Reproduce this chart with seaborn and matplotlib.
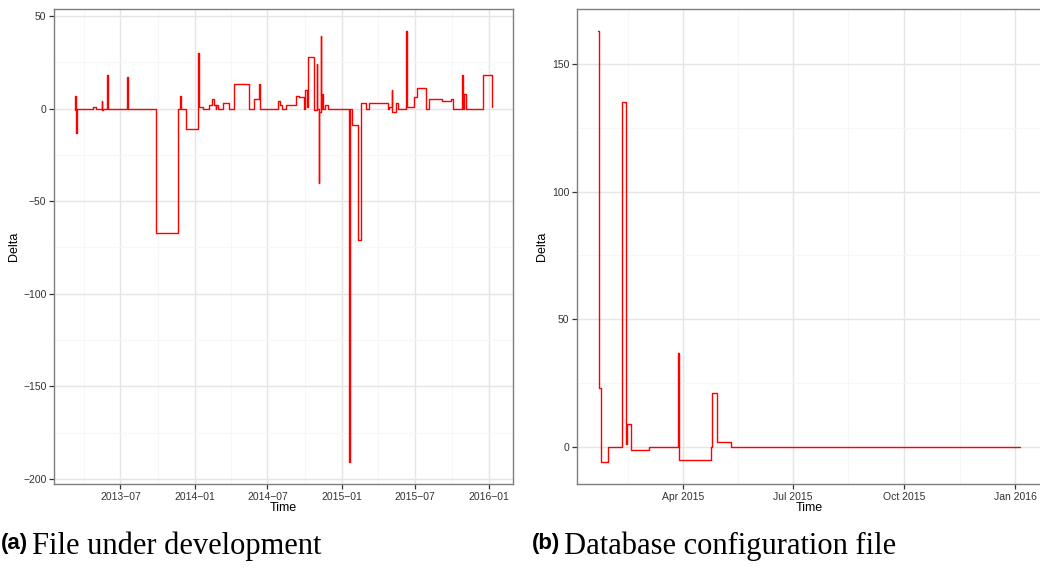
import pandas as pd
import numpy as np
import matplotlib
matplotlib.use("Agg")
import matplotlib.pyplot as plt
import matplotlib.dates as mdates
from matplotlib.ticker import FuncFormatter, MultipleLocator, FixedLocator
import seaborn as sns

# ---- data (step series, value holds until next date) ----
dev_dates = [
    "2013-03-10", "2013-03-11", "2013-03-13", "2013-03-15", "2013-04-25", "2013-05-02",
    "2013-05-16", "2013-05-17", "2013-05-19", "2013-05-28", "2013-05-31", "2013-07-17",
    "2013-07-20", "2013-09-27", "2013-11-21", "2013-11-27", "2013-11-29", "2013-12-11",
    "2014-01-10", "2014-01-12", "2014-01-23", "2014-02-05", "2014-02-13", "2014-02-18",
    "2014-02-22", "2014-02-24", "2014-02-28", "2014-03-12", "2014-03-28", "2014-04-08",
    "2014-05-15", "2014-05-28", "2014-06-09", "2014-06-12", "2014-07-27", "2014-08-01",
    "2014-08-06", "2014-08-17", "2014-09-10", "2014-09-18", "2014-09-29", "2014-10-02",
    "2014-10-08", "2014-10-10", "2014-10-24", "2014-10-31", "2014-11-02", "2014-11-06",
    "2014-11-07", "2014-11-10", "2014-11-11", "2014-11-13", "2014-11-15", "2014-11-20",
    "2014-11-27", "2015-01-20", "2015-01-23", "2015-01-28", "2015-02-10", "2015-02-18",
    "2015-03-03", "2015-03-10", "2015-04-25", "2015-04-29", "2015-05-05", "2015-05-07",
    "2015-05-15", "2015-05-22", "2015-06-11", "2015-06-13", "2015-06-30", "2015-07-08",
    "2015-07-29", "2015-08-06", "2015-09-08", "2015-09-29", "2015-10-04", "2015-10-26",
    "2015-10-30", "2015-11-01", "2015-11-05", "2015-12-17", "2016-01-09",
]
dev_delta = [
    -1, 7, -13, 0, 1, 0,
    4, -1, 0, 18, 0, 17,
    0, -67, 0, 7, 0, -11,
    30, 1, 0, 2, 5, 2,
    0, 2, 0, 3, 0, 13,
    0, 5, 13, 0, 4, 2,
    0, 2, 7, 6, 0, 10,
    1, 28, -1, 24, 0, -40,
    -2, 39, 0, 8, 0, 2,
    0, -191, 0, -9, -71, 3,
    0, 3, 0, 1, 10, -2,
    3, 0, 42, 1, 6, 11,
    0, 5, 4, 5, 0, 18,
    0, 8, 0, 18, 1,
]

db_dates = [
    "2015-01-21", "2015-01-22", "2015-01-23", "2015-01-29", "2015-02-10", "2015-02-13",
    "2015-02-14", "2015-02-17", "2015-03-04", "2015-03-28", "2015-03-29", "2015-04-24",
    "2015-04-25", "2015-04-29", "2015-05-11", "2016-01-05",
]
db_delta = [163, 23, -6, 0, 135, 1, 9, -1, 0, 37, -5, 0, 21, 2, 0, 0]

dev = pd.DataFrame({"Time": pd.to_datetime(dev_dates), "Delta": dev_delta})
db = pd.DataFrame({"Time": pd.to_datetime(db_dates), "Delta": db_delta})

# ---- style (ggplot theme_bw look) ----
sns.set_style("white")
plt.rcParams["font.family"] = ["Liberation Sans", "DejaVu Sans"]
plt.rcParams["text.color"] = "black"
plt.rcParams["axes.labelcolor"] = "black"

fig = plt.figure(figsize=(10.4, 5.7), dpi=100)
ax1 = fig.add_axes([0.052, 0.151, 0.441, 0.833])
ax2 = fig.add_axes([0.555, 0.151, 0.446, 0.833])


def expand(lo, hi, frac=0.05):
    span = hi - lo
    return lo - span * frac, hi + span * frac


def style_axes(ax, df, major, minor, fmt, ystep, ylabelpad):
    sns.lineplot(data=df, x="Time", y="Delta", ax=ax, color="red", lw=1.0,
                 drawstyle="steps-post", estimator=None, sort=False)
    x0, x1 = expand(mdates.date2num(df["Time"].min()), mdates.date2num(df["Time"].max()))
    ax.set_xlim(x0, x1)
    ax.set_ylim(*expand(df["Delta"].min(), df["Delta"].max()))
    ax.xaxis.set_major_locator(major)
    ax.xaxis.set_minor_locator(minor)
    ax.xaxis.set_major_formatter(FuncFormatter(fmt))
    ax.yaxis.set_major_locator(MultipleLocator(ystep))
    ax.yaxis.set_minor_locator(MultipleLocator(ystep / 2))
    ax.yaxis.set_major_formatter(FuncFormatter(lambda v, p: f"{v:.0f}".replace("-", "\u2212")))
    ax.grid(which="major", color="#e5e5e5", lw=1.0)
    ax.grid(which="minor", color="#f7f7f7", lw=0.8)
    ax.set_axisbelow(True)
    for s in ax.spines.values():
        s.set_color("#7f7f7f")
        s.set_linewidth(1.0)
    ax.tick_params(which="major", bottom=True, left=True, direction="out",
                   length=3.5, width=0.9, color="#333333",
                   labelsize=7.5, labelcolor="#333333", pad=2)
    ax.tick_params(which="minor", bottom=False, left=False, length=0)
    ax.set_xlabel("Time", fontsize=9, labelpad=0)
    ax.set_ylabel("Delta", fontsize=9, labelpad=ylabelpad)


style_axes(ax1, dev, mdates.MonthLocator(bymonth=[1, 7]), mdates.MonthLocator(bymonth=[4, 10]),
           lambda v, p: mdates.num2date(v).strftime("%Y-%m").replace("-", "\u2212"), 50, 2)

# right panel: quarterly majors, minor gridlines halfway between them
q_major = mdates.MonthLocator(bymonth=[1, 4, 7, 10])
q_ticks = pd.date_range("2015-01-01", "2016-04-01", freq="QS")
q_mid = mdates.date2num(q_ticks[:-1]) + np.diff(mdates.date2num(q_ticks)) / 2
style_axes(ax2, db, q_major, FixedLocator(q_mid),
           lambda v, p: mdates.num2date(v).strftime("%b %Y"), 50, 3)

# ---- sub-captions ----
for x, tag, cap in [(0.001, "(a)", "File under development"),
                    (0.511, "(b)", "Database configuration file")]:
    t = fig.text(x, 0.036, tag, fontsize=16, fontweight="bold", color="black",
                 family=["Liberation Sans", "DejaVu Sans"], va="baseline")
    fig.canvas.draw()
    ax1.annotate(cap, xy=(1, 0), xycoords=t, xytext=(3, 0), textcoords="offset points",
                 fontsize=22, color="black", family=["Liberation Serif", "DejaVu Serif"],
                 va="baseline", annotation_clip=False)

fig.savefig("out.png", dpi=100)
